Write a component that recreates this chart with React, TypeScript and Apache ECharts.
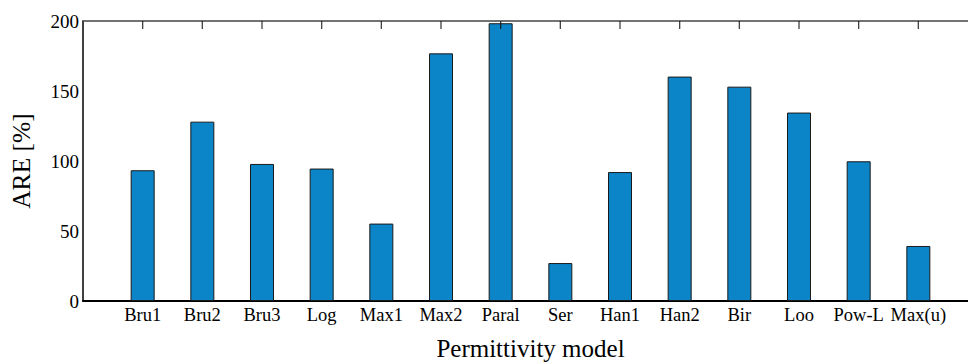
import React, { useEffect, useRef } from "react";
import * as echarts from "echarts";

const categories = ["Bru1", "Bru2", "Bru3", "Log", "Max1", "Max2", "Paral", "Ser", "Han1", "Han2", "Bir", "Loo", "Pow-L", "Max(u)"];
const areValues = [93.4, 128.1, 97.9, 94.6, 55.3, 176.9, 198.4, 27.1, 92.1, 160.3, 153.1, 134.6, 99.8, 39.3];
const yTicks = { min: 0, max: 200, interval: 50 };

const FONT = "Liberation Serif";

export default function App() {
  const ref = useRef<HTMLDivElement>(null);
  useEffect(() => {
    if (!ref.current) return;
    const chart = echarts.init(ref.current, null, { renderer: "svg" });
    const paddedCats = ["", ...categories, ""];
    const paddedVals: (number | null)[] = [null, ...areValues, null];
    const topTickData = categories.map((c) => [c, yTicks.max]);
    chart.setOption({
      animation: false,
      backgroundColor: "#ffffff",
      grid: { left: 83, right: -10, top: 21, bottom: 62, containLabel: false, outerBoundsMode: "none" },
      xAxis: [
        {
          type: "category",
          data: paddedCats,
          boundaryGap: false,
          position: "bottom",
          axisLine: { show: true, lineStyle: { color: "#000", width: 2 } },
          axisTick: { show: false },
          axisLabel: { interval: 0, color: "#000", fontFamily: FONT, fontSize: 18.5, margin: 4 },
          splitLine: { show: false },
          name: "Permittivity model",
          nameLocation: "middle",
          nameGap: 35,
          nameTextStyle: { color: "#000", fontFamily: FONT, fontSize: 25, verticalAlign: "top" },
        },
        {
          type: "category",
          data: paddedCats,
          boundaryGap: false,
          position: "top",
          axisLine: { show: true, onZero: false, lineStyle: { color: "#444", width: 1.5 } },
          axisTick: { show: false },
          axisLabel: { show: false },
          splitLine: { show: false },
        },
      ],
      yAxis: {
        type: "value",
        min: yTicks.min,
        max: yTicks.max,
        interval: yTicks.interval,
        axisLine: { show: true, lineStyle: { color: "#000", width: 1.5 } },
        axisTick: { show: false },
        splitLine: { show: false },
        axisLabel: { color: "#000", fontFamily: FONT, fontSize: 19, margin: 4 },
        name: "ARE [%]",
        nameLocation: "middle",
        nameGap: 49,
        nameTextStyle: { color: "#000", fontFamily: FONT, fontSize: 25.5 },
      },
      series: [
        {
          type: "bar",
          xAxisIndex: 0,
          data: paddedVals,
          barWidth: 24,
          itemStyle: { color: "#0b84c8", borderColor: "#1a1a1a", borderWidth: 1 },
        },
        {
          type: "scatter",
          xAxisIndex: 0,
          data: topTickData,
          symbol: "rect",
          symbolSize: [1.3, 8],
          symbolOffset: [0, 4],
          itemStyle: { color: "#111" },
          silent: true,
          z: 5,
        },
      ],
    });
    return () => chart.dispose();
  }, []);
  return (
    <div
      ref={ref}
      style={{ position: "fixed", left: 0, top: 0, width: 968, height: 363, background: "#fff" }}
    />
  );
}
